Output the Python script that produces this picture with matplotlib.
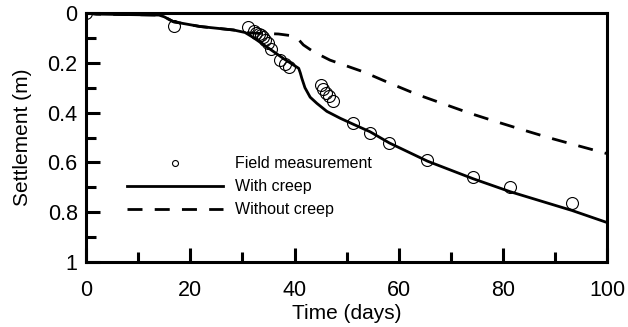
import matplotlib
matplotlib.use("Agg")
import matplotlib.pyplot as plt
from matplotlib.ticker import MultipleLocator, FixedFormatter, FixedLocator

plt.rcParams["font.family"] = ["Liberation Sans", "DejaVu Sans"]

# -------------------------
# Data
# -------------------------

field_days = [0, 16.8, 31.1, 32.3, 32.7, 33.1, 33.5, 33.9, 34.4, 34.9, 35.4,
              37.2, 38.2, 39.0, 45.0, 45.5, 46.1, 46.7, 47.3, 51.3, 54.5,
              58.2, 65.5, 74.3, 81.4, 93.2]
field_settle = [0.0, 0.050, 0.056, 0.072, 0.080, 0.086, 0.090, 0.097, 0.108,
                0.120, 0.145, 0.188, 0.203, 0.217, 0.290, 0.306, 0.320, 0.334,
                0.352, 0.440, 0.483, 0.521, 0.590, 0.657, 0.700, 0.764]

creep_days = [0, 2, 14, 15, 16.8, 21.9, 28.3, 30.5, 32, 34, 37.9, 40.8, 41.1,
              41.4, 42.0, 43.0, 44.3, 46.2, 48.8, 51.3, 54.5, 58.2, 65.5,
              74.3, 81.4, 93.2, 100]
creep_settle = [0, 0.004, 0.008, 0.015, 0.035, 0.054, 0.068, 0.078, 0.097,
                0.126, 0.183, 0.222, 0.240, 0.262, 0.300, 0.338, 0.363, 0.395,
                0.423, 0.447, 0.477, 0.522, 0.595, 0.666, 0.718, 0.793, 0.842]

nocreep_days = [0, 2, 14, 15, 16.8, 21.9, 28.3, 30.5, 31.5, 36.9, 39.8, 40.5,
                41.7, 43.6, 46.8, 53.2, 58.3, 63.5, 73.7, 78.8, 83.9, 89.0,
                94.2, 100]
nocreep_settle = [0, 0.004, 0.008, 0.015, 0.035, 0.054, 0.068, 0.078, 0.080,
                  0.084, 0.092, 0.100, 0.128, 0.155, 0.189, 0.236, 0.282,
                  0.327, 0.403, 0.437, 0.470, 0.502, 0.532, 0.565]

y_ticks = [0, 0.2, 0.4, 0.6, 0.8, 1]
y_labels = ["0", "0.2", "0.4", "0.6", "0.8", "1"]

# -------------------------
# Plot
# -------------------------

fig = plt.figure(figsize=(6.28, 3.27), dpi=100)
ax = fig.add_axes([0.137, 0.199, 0.830, 0.761])

ax.plot(field_days, field_settle, linestyle="none", marker="o",
        markersize=8.6, markerfacecolor="none", markeredgecolor="black",
        markeredgewidth=0.8, label="Field measurement", zorder=3)
ax.plot(creep_days, creep_settle, color="black", linewidth=2.0,
        label="With creep")
ax.plot(nocreep_days, nocreep_settle, color="black", linewidth=2.0,
        linestyle=(0, (5.4, 4.4)), label="Without creep")

ax.set_xlim(0, 100)
ax.set_ylim(1, 0)
ax.xaxis.set_major_locator(MultipleLocator(20))
ax.xaxis.set_minor_locator(MultipleLocator(10))
ax.yaxis.set_major_locator(FixedLocator(y_ticks))
ax.yaxis.set_major_formatter(FixedFormatter(y_labels))
ax.yaxis.set_minor_locator(MultipleLocator(0.1))

for side in ax.spines.values():
    side.set_linewidth(2.2)

ax.tick_params(which="both", direction="in", width=2.2, top=False,
               right=False, labelsize=15.5)
ax.tick_params(which="major", length=10)
ax.tick_params(which="minor", length=7)
ax.tick_params(axis="x", pad=13)
ax.tick_params(axis="y", pad=6)

ax.set_xlabel("Time (days)", fontsize=15, labelpad=2)
ax.set_ylabel("Settlement (m)", fontsize=15, labelpad=11)

fig.legend(loc="upper left", bbox_to_anchor=(0.202, 0.522), frameon=False,
           fontsize=11.5, handlelength=6.0, handletextpad=0.75,
           labelspacing=0.5, borderpad=0, borderaxespad=0, markerscale=0.5)

plt.savefig("out.png", dpi=100)
plt.close()
